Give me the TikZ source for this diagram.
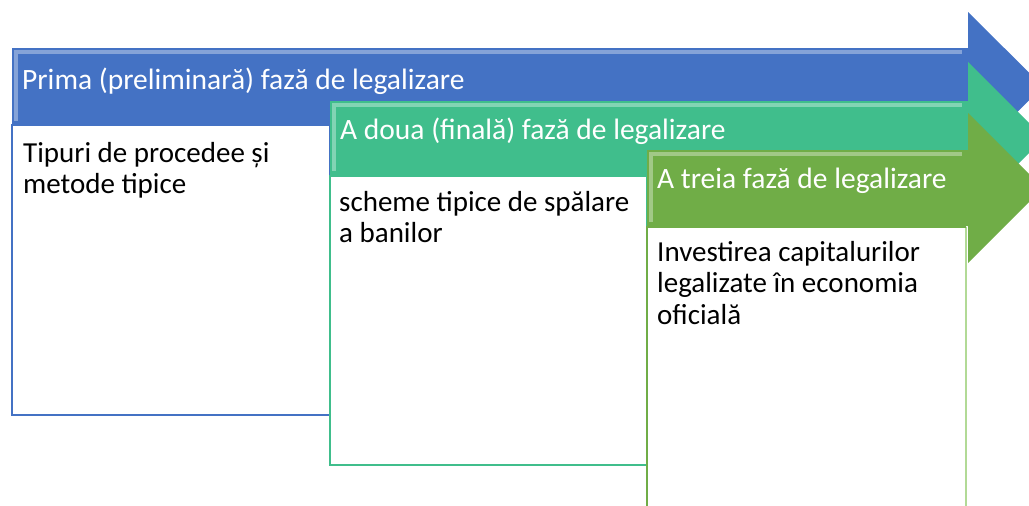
\documentclass[tikz,border=0pt]{standalone}
\usepackage{fontspec}
\setmainfont{Carlito}
\definecolor{cblue}{RGB}{68,114,196}
\definecolor{cteal}{RGB}{64,190,140}
\definecolor{cgreen}{RGB}{112,173,71}
\definecolor{cgreenlt}{RGB}{178,218,150}
\tikzset{
  arrowbody/.style={fill=#1, draw=none},
  hilite/.style={draw=white, draw opacity=0.35, line width=3.5pt, line cap=butt},
  boxframe/.style={fill=white, draw=#1, line width=2pt},
  headtext/.style={text=white, font=\fontsize{29.5}{33}\selectfont, inner sep=0pt, anchor=base west},
  bodytext/.style={text=black, font=\fontsize{29}{31.5}\selectfont, inner sep=0pt, anchor=base west, text width=330pt, align=flush left}
}
\begin{document}
\begin{tikzpicture}[x=1pt,y=-1pt]
\useasboundingbox (0,0) rectangle (1029,506);
\clip (0,0) rectangle (1029,506);
% blue arrow
\fill[arrowbody=cblue] (12,48) -- (968,48) -- (968,12) -- (1043,86.5) -- (968,161) -- (968,125) -- (12,125) -- cycle;
\draw[hilite] (14,52) -- (962,52);
\draw[hilite] (16,54) -- (16,121);
% box 1
\draw[boxframe=cblue] (12,125) rectangle (330,415);
\node[headtext] (h1) at (22,89) {Prima (preliminară) fază de legalizare};
\node[bodytext] (b1) at (23,162) {Tipuri de procedee și\\metode tipice};
% teal arrow
\fill[arrowbody=cteal] (330,101) -- (968,101) -- (968,62) -- (1044,138) -- (968,214) -- (968,175) -- (330,175) -- cycle;
\draw[hilite] (332,105) -- (962,105);
\draw[hilite] (334,107) -- (334,171);
% box 2
\draw[boxframe=cteal] (330,176) rectangle (647,465);
\node[headtext] (h2) at (340,139) {A doua (finală) fază de legalizare};
\node[bodytext] (b2) at (339,211) {scheme tipice de spălare\\a banilor};
% box 3
\fill[white] (647,227) rectangle (966,520);
\draw[cgreenlt, line width=1.2pt] (966,227) -- (966,520);
\draw[cgreen, line width=2pt] (647,520) -- (647,227) -- (966,227);
% green arrow
\fill[arrowbody=cgreen] (647,150) -- (968,150) -- (968,113) -- (1043,188) -- (968,263) -- (968,226) -- (647,226) -- cycle;
\draw[hilite] (649,154) -- (962,154);
\draw[hilite] (651,156) -- (651,222);
\node[headtext] (h3) at (657,188) {A treia fază de legalizare};
\node[bodytext] (b3) at (657,261) {Investirea capitalurilor\\legalizate în economia\\oficială};
\end{tikzpicture}
\end{document}
